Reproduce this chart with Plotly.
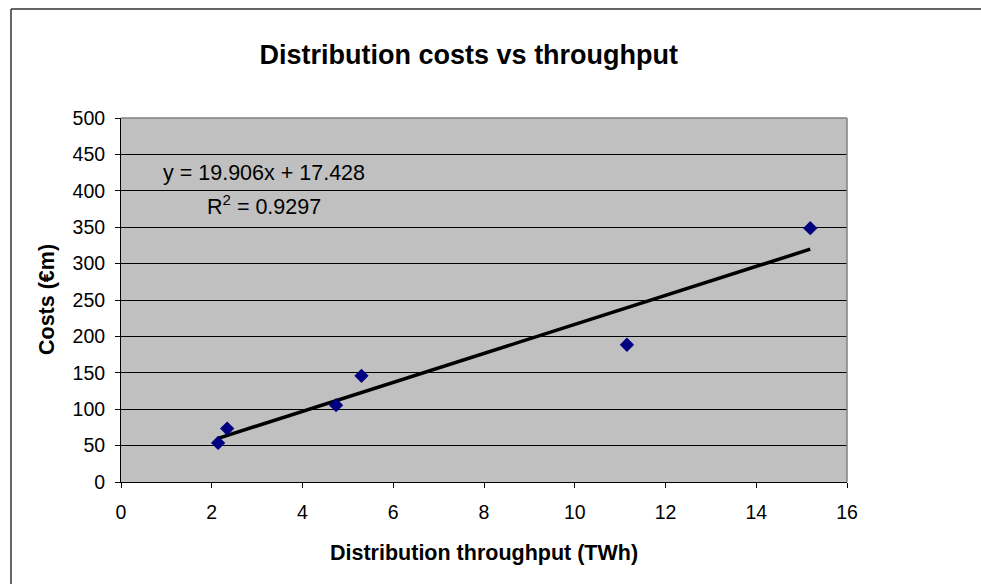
import plotly.graph_objects as go

# Distribution throughput (TWh) and costs (€m) per operator
throughput_twh = [2.14, 2.34, 4.74, 5.30, 11.15, 15.19]
costs_eur_m = [53.7, 73.4, 105.5, 145.8, 188.5, 348.6]

# Linear trend (Excel-style) coefficients
trend_slope = 19.906
trend_intercept = 17.428
trend_r2 = 0.9297

x_ticks = [0, 2, 4, 6, 8, 10, 12, 14, 16]
y_ticks = [0, 50, 100, 150, 200, 250, 300, 350, 400, 450, 500]

FONT = "Liberation Sans, Arial, sans-serif"

x_lo, x_hi = min(throughput_twh), max(throughput_twh)
trend_x = [x_lo, x_hi]
trend_y = [trend_slope * v + trend_intercept for v in trend_x]

fig = go.Figure()
fig.add_trace(go.Scatter(
    x=trend_x, y=trend_y, mode="lines",
    line=dict(color="black", width=3.5),
    hoverinfo="skip", showlegend=False,
))
fig.add_trace(go.Scatter(
    x=throughput_twh, y=costs_eur_m, mode="markers",
    marker=dict(symbol="diamond", size=11, color="#000080"),
    showlegend=False,
))

W, H = 981, 584
L, R, T, B = 121, 134, 118, 102
pw, ph = W - L - R, H - T - B

def px(xp):
    return (xp - L) / pw

def py(yp):
    return (H - B - yp) / ph

fig.update_layout(
    width=W, height=H,
    margin=dict(l=L, r=R, t=T, b=B, pad=0),
    paper_bgcolor="white",
    plot_bgcolor="#C0C0C0",
    font=dict(family=FONT, color="black", size=19),
    title=dict(
        text="<b>Distribution costs vs throughput</b>",
        x=470 / W, xanchor="center", xref="paper",
        y=1 - 55 / H, yanchor="middle",
        font=dict(size=27, family=FONT, color="black"),
    ),
    xaxis=dict(
        range=[0, 16], tickvals=x_ticks, ticktext=[str(v) for v in x_ticks],
        showgrid=False, zeroline=False,
        showline=True, linecolor="black", linewidth=1,
        ticks="outside", ticklen=5, tickcolor="black",
        tickfont=dict(size=19.5), ticklabelstandoff=8,
        mirror=False,
    ),
    yaxis=dict(
        range=[0, 500], tickvals=y_ticks, ticktext=[str(v) for v in y_ticks],
        showgrid=True, gridcolor="black", gridwidth=1, zeroline=False,
        showline=True, linecolor="black", linewidth=1,
        ticks="outside", ticklen=5, tickcolor="black",
        tickfont=dict(size=19.5), ticklabelstandoff=6,
    ),
    shapes=[
        # plot-area frame on top and right
        dict(type="line", xref="paper", yref="paper", x0=0, x1=1, y0=1, y1=1,
             line=dict(color="#808080", width=1.5)),
        dict(type="line", xref="paper", yref="paper", x0=1, x1=1, y0=0, y1=1,
             line=dict(color="#808080", width=1.5)),
        # chart-area border (top and left edges)
        dict(type="line", xref="paper", yref="paper",
             x0=px(11), x1=px(W + 5), y0=py(9), y1=py(9),
             line=dict(color="#333333", width=1.5)),
        dict(type="line", xref="paper", yref="paper",
             x0=px(11), x1=px(11), y0=py(9), y1=py(H + 5),
             line=dict(color="#333333", width=1.5)),
    ],
    annotations=[
        dict(text="<b>Distribution throughput (TWh)</b>", xref="paper", yref="paper",
             x=0.5, y=py(553), xanchor="center", yanchor="middle",
             showarrow=False, font=dict(size=21.5, family=FONT)),
        dict(text="<b>Costs (€m)</b>", xref="paper", yref="paper",
             x=px(47), y=0.5, xanchor="center", yanchor="middle", textangle=-90,
             showarrow=False, font=dict(size=21.5, family=FONT)),
        dict(text=f"y = {trend_slope:.3f}x + {trend_intercept:.3f}", xref="paper", yref="paper",
             x=px(263.5), y=py(173), xanchor="center", yanchor="middle",
             showarrow=False, font=dict(size=21.5, family=FONT)),
        dict(text=f"R<sup>2</sup> = {trend_r2:.4f}", xref="paper", yref="paper",
             x=px(264), y=py(205), xanchor="center", yanchor="middle",
             showarrow=False, font=dict(size=21.5, family=FONT)),
    ],
)

fig.write_html("out.html")
